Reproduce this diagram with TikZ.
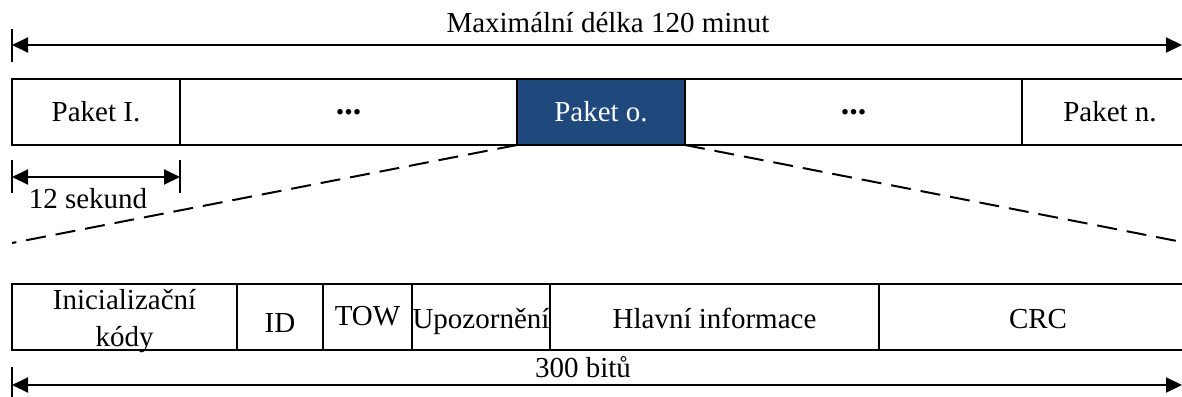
\documentclass[tikz,border=0pt]{standalone}
\usepackage{fontspec}
\setmainfont{Liberation Serif}
\usetikzlibrary{arrows.meta,calc}
\definecolor{paketblue}{RGB}{31,73,125}
\tikzset{
  cell/.style={draw, line width=2.5pt, minimum height=66pt, inner sep=0pt, outer sep=0pt, anchor=north west, font=\fontsize{29}{33}\selectfont},
  txt/.style={inner sep=0pt, outer sep=0pt, anchor=base, font=\fontsize{29}{33}\selectfont},
  dimarrow/.style={line width=2pt, {Triangle[length=16pt,width=15pt]}-{Triangle[length=16pt,width=15pt]}},
  tickline/.style={line width=2pt},
  zoomline/.style={line width=2pt, dash pattern=on 20pt off 10pt},
}
\begin{document}
\begin{tikzpicture}[x=1pt,y=-1pt]
\useasboundingbox (0,0) rectangle (1182,396);
\clip (0,0) rectangle (1182,396);
% top dimension
\coordinate (tl) at (12,45);
\coordinate (tr) at (1182,45);
\draw[tickline] (12,29) -- (12,62);
\draw[dimarrow] (tl) -- (tr);
\node[txt] (maxlen) at (608,33) {Maximální délka 120 minut};
% packets row
\node[cell, minimum width=168pt] (p1) at (12,79) {Paket I.};
\node[cell, minimum width=337pt] (d1) at (180,79) {\fontsize{34}{34}\selectfont\textbf{...}};
\node[cell, minimum width=168pt, fill=paketblue, text=white] (po) at (517,79) {Paket o.};
\node[cell, minimum width=337pt] (d2) at (685,79) {\fontsize{34}{34}\selectfont\textbf{...}};
\node[cell, minimum width=176pt] (pn) at (1022,79) {Paket n.};
% 12 sekund
\coordinate (sl) at (12,177);
\coordinate (sr) at (180,177);
\draw[tickline] (12,160) -- (12,193);
\draw[tickline] (180,160) -- (180,193);
\draw[dimarrow] (sl) -- (sr);
\node[txt] (sek) at (88,208) {12 sekund};
% zoom lines
\coordinate (zl) at (12,243);
\coordinate (zr) at (1182,242);
\draw[zoomline] (po.south west) -- (zl);
\draw[zoomline] (po.south east) -- (zr);
% frame row
\node[cell, minimum width=225pt] (ini) at (12,284) {};
\node[cell, minimum width=86pt] (id) at (237,284) {};
\node[cell, minimum width=89pt] (tow) at (323,284) {};
\node[cell, minimum width=138pt] (upo) at (412,284) {};
\node[cell, minimum width=329pt] (hla) at (550,284) {};
\node[cell, minimum width=318pt] (crc) at (879,284) {};
\node[txt] (iniA) at ($(ini.north)+(0,25)$) {Inicializační};
\node[txt] (iniB) at ($(ini.north)+(0,62)$) {kódy};
\node[txt] (idT) at ($(id.north)+(0,48)$) {ID};
\node[txt] (towT) at ($(tow.north)+(0,41)$) {TOW};
\node[txt] (upoT) at ($(upo.north)+(0,44)$) {Upozornění};
\node[txt] (hlaT) at ($(hla.north)+(0,44)$) {Hlavní informace};
\node[txt] (crcT) at ($(crc.north)+(0,44)$) {CRC};
% bottom dimension
\coordinate (bl) at (12,385);
\coordinate (br) at (1182,385);
\draw[tickline] (12,367) -- (12,400);
\draw[dimarrow] (bl) -- (br);
\node[txt] (bits) at (583,377) {300 bitů};
\end{tikzpicture}
\end{document}
